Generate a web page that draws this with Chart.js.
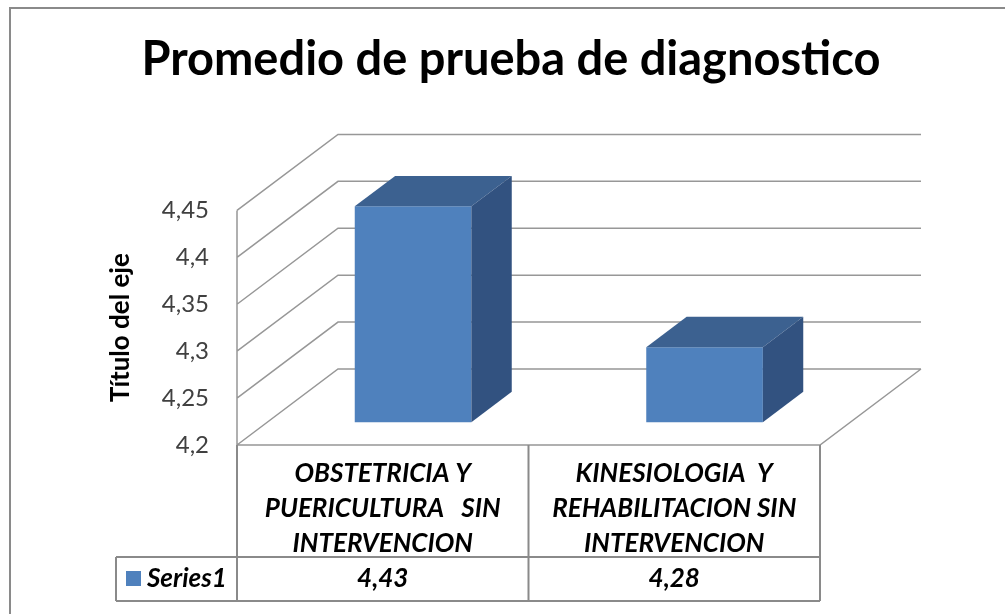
<!DOCTYPE html>
<html>
<head>
<meta charset="utf-8">
<script src="https://cdn.jsdelivr.net/npm/chart.js@4.4.1/dist/chart.umd.min.js"></script>
<style>
    html, body { margin: 0; padding: 0; background: #fff; overflow: hidden; }
</style>
</head>
<body>
<canvas id="diagnosticoChart" width="1005" height="614"></canvas>
<script>
const categories = [
    ['OBSTETRICIA Y', 'PUERICULTURA   SIN', 'INTERVENCION'],
    ['KINESIOLOGIA  Y', 'REHABILITACION SIN', 'INTERVENCION']
];
const seriesName = 'Series1';
const seriesValues = [4.43, 4.28];
const yMin = 4.2;
const yMax = 4.45;
const yStep = 0.05;

// 3D look: depth offset of the back wall, bars sit between 30% and 70% of depth
const depthX = 101;
const depthY = -76;
const barFront = 0.3;
const barBack = 0.7;

const gridColor = '#979797';
const barColor = '#4F81BD';
const barTopColor = '#3C6190';
const barSideColor = '#325280';
const tableFont = 'italic bold 26px Lato';

function formatComma(v) {
    return String(Math.round(v * 100) / 100).replace('.', ',');
}

const walls3d = {
    id: 'walls3d',
    beforeDraw(chart) {
        const ctx = chart.ctx;
        ctx.save();
        ctx.strokeStyle = '#8a8a8a';
        ctx.lineWidth = 2;
        ctx.strokeRect(10, 8, 1100, 700);
        ctx.restore();
    },
    beforeDatasetsDraw(chart) {
        const ctx = chart.ctx;
        const area = chart.chartArea;
        const y = chart.scales.y;
        ctx.save();
        ctx.strokeStyle = gridColor;
        ctx.lineWidth = 1.5;
        ctx.beginPath();
        y.ticks.forEach(t => {
            const py = y.getPixelForValue(t.value);
            // side wall
            ctx.moveTo(area.left, py);
            ctx.lineTo(area.left + depthX, py + depthY);
            // back wall
            ctx.lineTo(area.right + depthX, py + depthY);
        });
        // left wall front edge
        ctx.moveTo(area.left, area.top);
        ctx.lineTo(area.left, area.bottom);
        // floor front and right edge
        ctx.lineTo(area.right, area.bottom);
        ctx.lineTo(area.right + depthX, area.bottom + depthY);
        ctx.stroke();
        ctx.restore();

        // push the bar fronts back into the floor
        ctx.save();
        ctx.translate(depthX * barFront, depthY * barFront);
    },
    afterDatasetsDraw(chart) {
        const ctx = chart.ctx;
        ctx.restore();
        const bdx = depthX * (barBack - barFront);
        const bdy = depthY * (barBack - barFront);
        const fx = depthX * barFront;
        const fy = depthY * barFront;
        chart.getDatasetMeta(0).data.forEach(bar => {
            const L = bar.x - bar.width / 2 + fx;
            const R = bar.x + bar.width / 2 + fx;
            const T = bar.y + fy;
            const B = bar.base + fy;
            ctx.fillStyle = barTopColor;
            ctx.beginPath();
            ctx.moveTo(L, T);
            ctx.lineTo(R, T);
            ctx.lineTo(R + bdx, T + bdy);
            ctx.lineTo(L + bdx, T + bdy);
            ctx.closePath();
            ctx.fill();
            ctx.fillStyle = barSideColor;
            ctx.beginPath();
            ctx.moveTo(R, T);
            ctx.lineTo(R + bdx, T + bdy);
            ctx.lineTo(R + bdx, B + bdy);
            ctx.lineTo(R, B);
            ctx.closePath();
            ctx.fill();
        });
    },
    afterDraw(chart) {
        // data table under the axis
        const ctx = chart.ctx;
        const area = chart.chartArea;
        const x = chart.scales.x;
        const n = categories.length;
        const colW = (area.right - area.left) / n;
        const rowTop = 557;
        const rowBottom = 601;
        const legendLeft = 116;
        ctx.save();
        ctx.strokeStyle = '#8a8a8a';
        ctx.lineWidth = 2;
        ctx.beginPath();
        for (let i = 0; i <= n; i++) {
            const px = area.left + i * colW;
            ctx.moveTo(px, area.bottom);
            ctx.lineTo(px, rowBottom);
        }
        ctx.moveTo(legendLeft, rowTop);
        ctx.lineTo(area.right, rowTop);
        ctx.moveTo(legendLeft, rowBottom);
        ctx.lineTo(area.right, rowBottom);
        ctx.moveTo(legendLeft, rowTop);
        ctx.lineTo(legendLeft, rowBottom);
        ctx.stroke();

        const midY = (rowTop + rowBottom) / 2;
        ctx.fillStyle = barColor;
        ctx.fillRect(legendLeft + 10, midY - 8, 15, 15);
        ctx.fillStyle = '#000';
        ctx.font = tableFont;
        ctx.textBaseline = 'middle';
        ctx.textAlign = 'left';
        ctx.fillText(seriesName, legendLeft + 31, midY);
        ctx.textAlign = 'center';
        seriesValues.forEach((v, i) => {
            ctx.fillText(formatComma(v), x.getPixelForValue(i), midY);
        });
        ctx.restore();
    }
};

const chart = new Chart(document.getElementById('diagnosticoChart'), {
    type: 'bar',
    data: {
        labels: categories,
        datasets: [{
            label: seriesName,
            data: seriesValues,
            base: yMin,
            backgroundColor: barColor,
            borderWidth: 0,
            barPercentage: 0.4,
            categoryPercentage: 1,
            clip: false
        }]
    },
    options: {
        responsive: false,
        animation: false,
        layout: {
            padding: { left: 17, right: 0, top: 0, bottom: 0 }
        },
        plugins: {
            legend: { display: false },
            tooltip: { enabled: false },
            title: {
                display: true,
                text: 'Promedio de prueba de diagnostico',
                color: '#000',
                font: { family: 'Lato', size: 47, weight: 'bold' },
                padding: { top: 32, bottom: 122 }
            }
        },
        scales: {
            x: {
                grid: { display: false },
                border: { display: false },
                ticks: {
                    color: '#000',
                    font: { family: 'Lato', size: 26, weight: 'bold', style: 'italic', lineHeight: 1.35 },
                    padding: 3,
                    autoSkip: false,
                    maxRotation: 0
                },
                afterFit(scale) {
                    scale.height = 169;
                }
            },
            y: {
                min: yMin,
                max: yMax,
                grid: { display: false },
                border: { display: false },
                ticks: {
                    stepSize: yStep,
                    color: '#404040',
                    font: { family: 'Lato', size: 24 },
                    padding: 20,
                    callback: v => formatComma(v)
                },
                title: {
                    display: true,
                    text: 'Título del eje',
                    color: '#000',
                    font: { family: 'Lato', size: 26, weight: 'bold' },
                    padding: { top: 88, bottom: 0 }
                },
                afterFit(scale) {
                    scale.width = 220;
                }
            },
            // keeps the empty space right of the floor, like the original plot area
            spacer: {
                type: 'linear',
                position: 'right',
                grid: { display: false },
                border: { display: false },
                ticks: { display: false },
                afterFit(scale) {
                    scale.width = 185;
                }
            }
        }
    },
    plugins: [walls3d]
});
</script>
</body>
</html>
